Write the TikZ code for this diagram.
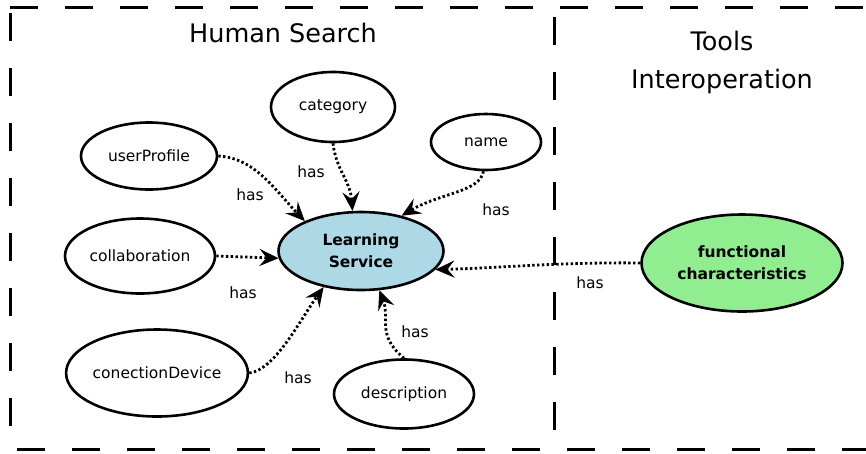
\documentclass[tikz,border=0pt]{standalone}
\usepackage{fontspec}
\setmainfont{DejaVu Sans}
\usetikzlibrary{shapes.geometric, arrows.meta, positioning}

\definecolor{lsblue}{HTML}{ADD8E6}
\definecolor{fcgreen}{HTML}{90EE90}

\begin{document}
\begin{tikzpicture}[x=1pt, y=-1pt,
  attr/.style={draw, ellipse, line width=2.6pt, inner sep=0pt, font=\fontsize{15.5}{18}\selectfont},
  hasedge/.style={line width=2.8pt, dash pattern=on 2.4pt off 2.4pt, -{Stealth[length=19pt, width=17pt, inset=7pt]}},
  haslbl/.style={font=\fontsize{15.5}{18}\selectfont},
  title/.style={font=\fontsize{25.5}{38}\selectfont, align=center},
  frame/.style={line width=3pt, dash pattern=on 28pt off 27pt}]

            \useasboundingbox (0,0) rectangle (866,453);

            % dashed frame and separator
            \draw[frame] (10,7) -- (866,7);
            \draw[frame] (10,13) -- (10,440);
            \draw[frame] (17,449) -- (866,449);
            \draw[frame] (554,17) -- (554,432);

            \node[title] (hstitle) at (283,33) {Human Search};
            \node[title] (tititle) at (722,62) {Tools\\Interoperation};

            \node[attr, minimum width=165pt, minimum height=78pt, fill=lsblue, align=center, font=\fontsize{15.5}{22}\selectfont\bfseries] (ls) at (361,251) {Learning\\Service};
            \node[attr, minimum width=201pt, minimum height=97pt, fill=fcgreen, align=center, font=\fontsize{15.5}{22}\selectfont\bfseries] (functional) at (742,263) {functional\\characteristics};

            \node[attr, minimum width=124pt, minimum height=70pt] (category) at (333,107) {category};
            \node[attr, minimum width=110pt, minimum height=56pt] (name) at (486,142) {name};
            \node[attr, minimum width=136pt, minimum height=67pt] (userProfile) at (149,156) {userProfile};
            \node[attr, minimum width=150pt, minimum height=75pt] (collaboration) at (140,256) {collaboration};
            \node[attr, minimum width=171pt, minimum height=87pt] (conectionDevice) at (157,373) {conectionDevice};
            \node[attr, minimum width=140pt, minimum height=69pt] (description) at (404,394) {description};

            % Connections: attributes to learning service
            \draw[hasedge] (userProfile.east) .. controls (255,158) and (275,190) .. (ls.152);
            \draw[hasedge] (category.south) .. controls (336,170) and (350,180) .. (ls.102);
            \draw[hasedge] (name.265) .. controls (480,192) and (440,193) .. (ls.41);
            \draw[hasedge] (collaboration.east) -- (ls.185);
            \draw[hasedge] (conectionDevice.east) .. controls (275,370) and (300,320) .. (ls.224);
            \draw[hasedge] (description.north) .. controls (376,335) and (390,318) .. (ls.295);
            \draw[hasedge] (functional.west) .. controls (560,262) and (500,268) .. (ls.346);

            \node[haslbl] (has1) at (250,195) {has};
            \node[haslbl] (has2) at (311,172) {has};
            \node[haslbl] (has3) at (496,210) {has};
            \node[haslbl] (has4) at (243,293) {has};
            \node[haslbl] (has5) at (298,378) {has};
            \node[haslbl] (has6) at (415,332) {has};
            \node[haslbl] (has7) at (590,283) {has};

        \end{tikzpicture}
\end{document}
